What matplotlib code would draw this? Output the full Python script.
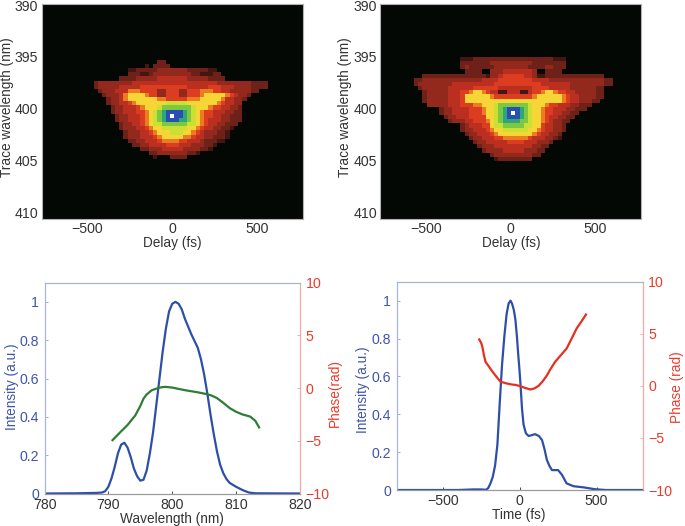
import numpy as np
import matplotlib
matplotlib.use("Agg")
import matplotlib.pyplot as plt
from matplotlib.colors import ListedColormap, BoundaryNorm

plt.rcParams['font.family'] = ['Liberation Sans', 'DejaVu Sans']
plt.rcParams['font.size'] = 10.2

W, H = 685, 526
LABEL_SIZE = 9.8
BLUE = '#3f55a8'
LINE_BLUE = '#2d4fa8'
RED = '#ee3a2a'
DARK = '#333333'

# FROG trace levels, one char per cell: 0 black ... b blue, c white
level_colors = ['#040804', '#451510', '#6e2118', '#93291c', '#bb2f20', '#dc3c1f',
                '#ec7c22', '#f5d636', '#cbe033', '#7cc843', '#2fa67a', '#2a4fb0', '#ffffff']

# left trace: delay -475..575 fs in 25 fs steps, wavelength 395.5..404.9 nm in 0.4 nm steps
left_trace = [
    "00000 00000 00000 02200",
    "00000 00000 00010 22220",
    "00000 00001 12222 23333 33322 22211",
    "00000 00002 22112 33333 33332 21112 2",
    "00000 00222 23333 34444 44433 33322 22",
    "02333 33333 44444 44444 44444 44444 33333 33322 220",
    "02333 33444 44555 55555 55544 44455 54443 33322 220",
    "00233 34446 66555 53355 53355 56665 54433 33322",
    "00023 33467 77765 53355 53355 56777 77654 33200",
    "00002 33467 77777 76655 55566 67777 76443 32",
    "00002 33445 67777 77788 88877 77777 65443 3",
    "00000 23344 45677 78999 99998 77765 54433 2",
    "00000 23344 45567 89abb bba98 76554 44332 2",
    "00000 02334 44567 89abc bba98 76554 43322 2",
    "00000 02334 44567 89abb baa98 76544 43322 2",
    "00000 00233 44567 88999 99988 76544 33222",
    "00000 00233 34456 77888 88877 65443 32210",
    "00000 00023 33445 67778 88776 54333 22100",
    "00000 00023 33444 56777 77665 44332 22100",
    "00000 00002 23344 45666 65544 43222 11",
    "00000 00000 22334 44455 54443 33221",
    "00000 00000 00223 33444 44333 32210",
    "00000 00000 00002 23333 33322 1",
    "00000 00000 00000 10002 22200",
]

# right trace: delay -560..590 fs in 25 fs steps, wavelength 395.2..404.8 nm in 0.4 nm steps
right_trace = [
    "00000 00000 01112 22222 22222 22222 22211 1",
    "00000 00000 02222 22233 33333 33322 22222 2",
    "00000 00000 02322 22223 33333 33222 23322 2",
    "00000 00000 00222 20033 34444 44430 02222",
    "00222 22222 22222 22133 45555 54431 12222 22222 22222",
    "22333 33333 33333 34444 55555 55544 44333 33333 33333 22",
    "23333 33334 44444 44445 55555 55555 44444 44333 33333 22",
    "02333 33344 44445 55555 44444 44455 55444 44333 33322",
    "00233 33344 45567 76544 11444 11455 67765 54433 33322",
    "00233 33344 45777 77765 55555 55567 77777 65443 33322",
    "00233 33344 45777 77777 77777 77777 77777 65443 33220",
    "00033 33344 45556 67778 99999 99877 76554 44332 22",
    "00000 02334 44455 56778 9abbb a9877 65544 43322 2",
    "00000 02334 44455 56778 9abcb a9877 65544 33220",
    "00000 00233 44455 55778 9abbb a9877 65443 32200",
    "00000 00023 33445 55678 9aaaa 99877 65433 22",
    "00000 00000 02344 45578 89999 98877 54433 2",
    "00000 00000 02334 44567 78888 88776 54433 2",
    "00000 00000 00233 44456 77777 77765 44332",
    "00000 00000 00023 34445 56666 66544 43321",
    "00000 00000 00002 33444 44555 54443 33200",
    "00000 00000 00000 23334 44444 44433 22",
    "00000 00000 00000 02333 34444 43332 2",
    "00000 00000 00000 00023 33333 33322",
    "00000 00000 00000 00001 22222 22200",
]

# spectrum panel
spec_wl = [780, 785, 788, 789, 789.5, 790, 790.5, 791, 791.5, 792, 792.5, 793, 793.5, 794, 794.5,
           795, 795.5, 796, 796.5, 797, 797.5, 798, 798.5, 799, 799.5, 800, 800.5, 801, 801.5,
           802, 803, 804, 804.5, 805, 805.5, 806, 806.5, 807, 807.5, 808, 808.5, 809, 810, 811,
           812, 813, 820]
spec_int = [0, 0.001, 0.003, 0.005, 0.012, 0.035, 0.08, 0.14, 0.21, 0.255, 0.265, 0.24, 0.19,
            0.13, 0.09, 0.067, 0.072, 0.12, 0.21, 0.32, 0.46, 0.6, 0.74, 0.86, 0.95, 0.99, 1.0,
            0.99, 0.96, 0.91, 0.83, 0.76, 0.70, 0.62, 0.52, 0.41, 0.31, 0.22, 0.15, 0.105, 0.075,
            0.055, 0.035, 0.018, 0.005, 0.001, 0]
spec_phase_wl = [790.65, 792, 793, 794.2, 795, 795.5, 796, 796.8, 798, 798.9, 800, 802, 804,
                 805.4, 806.2, 807, 808, 809, 810, 811, 812.2, 813, 813.6]
spec_phase = [-4.94, -4.1, -3.5, -2.6, -1.7, -1.0, -0.6, -0.2, 0.05, 0.12, 0.05, -0.2, -0.4,
              -0.57, -0.72, -0.95, -1.4, -1.9, -2.25, -2.5, -2.7, -3.1, -3.73]

# temporal panel
time_fs = [-800, -400, -300, -250, -220, -205, -190, -175, -160, -145, -130, -115, -100, -85, -72,
           -60, -50, -38, -28, -18, -10, -2, 5, 15, 25, 40, 58, 80, 100, 125, 145, 160, 177, 195,
           210, 230, 250, 275, 305, 350, 415, 490, 560, 800]
time_int = [0, 0, 0.003, 0.003, 0.001, 0.01, 0.035, 0.07, 0.13, 0.24, 0.457, 0.66, 0.81, 0.93,
            0.985, 1.0, 0.985, 0.95, 0.90, 0.81, 0.72, 0.64, 0.56, 0.43, 0.345, 0.30, 0.285,
            0.29, 0.295, 0.285, 0.264, 0.22, 0.158, 0.125, 0.105, 0.105, 0.105, 0.08, 0.035,
            0.02, 0.014, 0.004, 0, 0]
time_phase_t = [-263, -250, -243, -232, -222, -200, -179, -150, -125, -90, -60, -25, 4, 35, 69,
                95, 123, 150, 177, 200, 230, 265, 306, 340, 370, 400, 431]
time_phase = [4.45, 4.1, 3.75, 2.9, 2.3, 1.85, 1.4, 0.85, 0.4, 0.25, 0.15, 0.08, -0.03, -0.2,
              -0.35, -0.25, 0.0, 0.45, 1.0, 1.6, 2.3, 2.9, 3.6, 4.6, 5.5, 6.15, 6.85]

delay_ticks = [-500, 0, 500]
delay_labels = ['\u2212500', '0', '500']
wave_ticks = [390, 395, 400, 405, 410]


def px_axes(fig, left, top, right, bottom):
    ax = fig.add_axes([left / W, 1 - bottom / H, (right - left) / W, (bottom - top) / H])
    ax.box_px = (left, top, right, bottom)
    return ax


def place_ylabel(ax, text, color, x_px, y_px):
    l, t, r, b = ax.box_px
    ax.set_ylabel(text, color=color, fontsize=LABEL_SIZE, va='center', ha='center')
    ax.yaxis.set_label_coords((x_px - l) / (r - l), (b - y_px) / (b - t))


def place_xlabel(ax, text, x_px, y_px):
    l, t, r, b = ax.box_px
    ax.set_xlabel(text, color=DARK, fontsize=LABEL_SIZE, va='center', ha='center')
    ax.xaxis.set_label_coords((x_px - l) / (r - l), (b - y_px) / (b - t))


def trace_array(rows):
    rows = [r.replace(' ', '') for r in rows]
    ncol = max(len(r) for r in rows)
    return np.array([[int(c, 16) for c in r.ljust(ncol, '0')] for r in rows])


def draw_trace(ax, rows, delay_start, wave_start):
    data = trace_array(rows)
    cmap = ListedColormap(level_colors)
    norm = BoundaryNorm(np.arange(-0.5, 13.5), cmap.N)
    x = delay_start - 12.5 + 25 * np.arange(data.shape[1] + 1)
    y = wave_start - 0.2 + 0.4 * np.arange(data.shape[0] + 1)
    ax.set_facecolor(level_colors[0])
    ax.pcolormesh(x, y, data, cmap=cmap, norm=norm, shading='flat', rasterized=True)
    ax.set_xlim(-770, 770)
    ax.set_ylim(410.6, 389.9)
    ax.set_xticks(delay_ticks)
    ax.set_xticklabels(delay_labels)
    ax.set_yticks(wave_ticks)
    ax.tick_params(length=0, colors=DARK, pad=2.5)
    for s in ax.spines.values():
        s.set_color('#b0b0b0')
        s.set_linewidth(0.8)


def style_pair(ax, ax2, xticks, xlabels=None):
    ax.set_ylim(0, 1.1)
    ax.set_yticks([0, 0.2, 0.4, 0.6, 0.8, 1])
    ax.set_yticklabels(['0', '0.2', '0.4', '0.6', '0.8', '1'])
    ax.set_xticks(xticks)
    if xlabels:
        ax.set_xticklabels(xlabels)
    ax.tick_params(axis='x', direction='in', length=2.5, colors=DARK, width=0.6, pad=3)
    ax.tick_params(axis='y', direction='in', length=2.5, color='#8fa0d8', labelcolor=BLUE,
                   width=0.6, pad=4)
    ax2.set_ylim(-10, 10)
    ax2.set_yticks([-10, -5, 0, 5, 10])
    ax2.set_yticklabels(['\u221210', '\u22125', '0', '5', '10'])
    ax2.tick_params(axis='y', direction='in', length=2.5, color='#f5a0a0', labelcolor=RED,
                    width=0.6, pad=4)
    for a in (ax, ax2):
        a.spines['left'].set_color('#a8b4e4')
        a.spines['right'].set_color('#f5a8a0')
        a.spines['top'].set_color('#a8b4c8')
        a.spines['bottom'].set_color('#9a9a9a')
        for s in a.spines.values():
            s.set_linewidth(0.8)


fig = plt.figure(figsize=(W / 100, H / 100), dpi=100)

ax1 = px_axes(fig, 41.5, 4, 303, 219)
draw_trace(ax1, left_trace, -475, 395.47)
place_ylabel(ax1, 'Trace wavelength (nm)', DARK, 7, 107)
place_xlabel(ax1, 'Delay (fs)', 172, 243)

ax3 = px_axes(fig, 380.5, 4, 641, 219)
draw_trace(ax3, right_trace, -560, 395.2)
place_ylabel(ax3, 'Trace wavelength (nm)', DARK, 345, 107)
place_xlabel(ax3, 'Delay (fs)', 511, 243)

ax5 = px_axes(fig, 44.5, 282.7, 300, 493.5)
ax5.plot(spec_wl, spec_int, color=LINE_BLUE, lw=1.6)
ax5.set_xlim(780, 820)
place_xlabel(ax5, 'Wavelength (nm)', 172, 519)
place_ylabel(ax5, 'Intensity (a.u.)', BLUE, 12, 387)
ax6 = ax5.twinx()
ax6.box_px = ax5.box_px
ax6.plot(spec_phase_wl, spec_phase, color='#2f7d35', lw=1.6)
place_ylabel(ax6, 'Phase(rad)', RED, 335, 393)
style_pair(ax5, ax6, [780, 790, 800, 810, 820])

ax7 = px_axes(fig, 396.7, 281.7, 642.7, 490)
ax7.plot(time_fs, time_int, color=LINE_BLUE, lw=1.6)
ax7.set_xlim(-800, 800)
place_xlabel(ax7, 'Time (fs)', 519, 515)
place_ylabel(ax7, 'Intensity (a.u.)', BLUE, 363, 390)
ax8 = ax7.twinx()
ax8.box_px = ax7.box_px
ax8.plot(time_phase_t, time_phase, color='#e5301f', lw=1.6)
place_ylabel(ax8, 'Phase (rad)', RED, 677, 387)
style_pair(ax7, ax8, delay_ticks, delay_labels)

fig.savefig('out.png', dpi=100)
